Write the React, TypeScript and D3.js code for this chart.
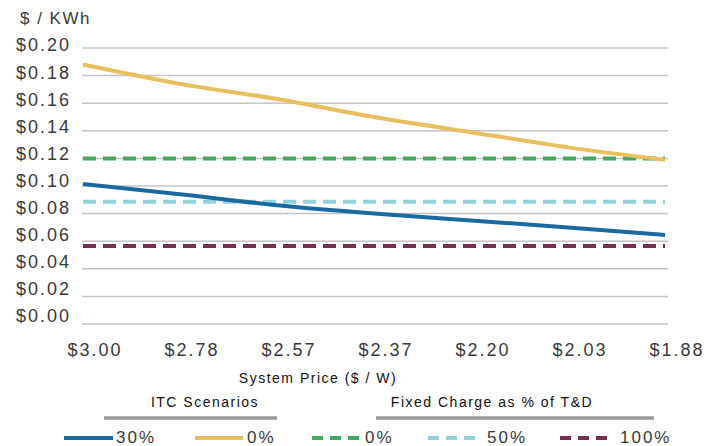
import React from "react";
import * as d3 from "d3";

const categories = ["$3.00", "$2.78", "$2.57", "$2.37", "$2.20", "$2.03", "$1.88"];
const itc30 = [0.1015, 0.094, 0.086, 0.080, 0.075, 0.070, 0.0645];
const itc0 = [0.188, 0.174, 0.163, 0.150, 0.139, 0.128, 0.119];
const fixed0 = [0.12, 0.12, 0.12, 0.12, 0.12, 0.12, 0.12];
const fixed50 = [0.0885, 0.0885, 0.0885, 0.0885, 0.0885, 0.0885, 0.0885];
const fixed100 = [0.0565, 0.0565, 0.0565, 0.0565, 0.0565, 0.0565, 0.0565];
const yTicks = [0, 0.02, 0.04, 0.06, 0.08, 0.1, 0.12, 0.14, 0.16, 0.18, 0.2];

const W = 710;
const H = 446;
const FONT = "'Liberation Sans', Arial, sans-serif";
const TXT = "#3a3a3a";

const series = [
  { name: "30%", values: itc30, color: "#1a6aa0", dash: null },
  { name: "0%", values: itc0, color: "#e8bf5c", dash: null },
  { name: "0%", values: fixed0, color: "#45aa5e", dash: "13 7" },
  { name: "50%", values: fixed50, color: "#93d0de", dash: "13 7" },
  { name: "100%", values: fixed100, color: "#76304f", dash: "13 7" },
];

export default function App() {
  const x = d3.scalePoint<string>().domain(categories).range([83, 665]);
  const y = d3.scaleLinear().domain([0, 0.2]).range([324, 48]);
  const yLab = d3.scaleLinear().domain([0, 0.2]).range([316, 45]);
  const line = d3
    .line<number>()
    .x((_, i) => x(categories[i]) as number)
    .y((d) => y(d))
    .curve(d3.curveMonotoneX);

  const legendItems = [
    { s: series[0], x0: 64, x1: 113, tx: 116 },
    { s: series[1], x0: 195, x1: 243, tx: 247 },
    { s: series[2], x0: 312, x1: 360, tx: 365 },
    { s: series[3], x0: 428, x1: 478, tx: 487 },
    { s: series[4], x0: 560, x1: 608, tx: 620 },
  ];
  const LY = 437;

  return (
    <svg
      width={W}
      height={H}
      style={{ position: "absolute", left: 0, top: 0, background: "#fff" }}
      fontFamily={FONT}
    >
      <text x={20} y={24} fontSize={17} fill={TXT} letterSpacing={1.5}>
        $ / KWh
      </text>
      {yTicks.map((t) => (
        <g key={t}>
          <line x1={82} x2={668} y1={y(t)} y2={y(t)} stroke="#c4c4c4" strokeWidth={1.5} />
          <text
            x={71}
            y={yLab(t)}
            dy="0.36em"
            textAnchor="end"
            fontSize={18}
            fill={TXT}
            letterSpacing={2}
          >
            {"$" + t.toFixed(2)}
          </text>
        </g>
      ))}
      {categories.map((c) => (
        <text
          key={c}
          x={(x(c) as number) + 12}
          y={350}
          dy="0.36em"
          textAnchor="middle"
          fontSize={18}
          fill={TXT}
          letterSpacing={2}
        >
          {c}
        </text>
      ))}
      <text x={318} y={378} dy="0.36em" textAnchor="middle" fontSize={14} fill="#111" letterSpacing={1.5}>
        System  Price ($ / W)
      </text>
      {series
        .slice()
        .reverse()
        .map((s, i) => (
          <path
            key={i}
            d={line(s.values) || ""}
            fill="none"
            stroke={s.color}
            strokeWidth={4}
            strokeDasharray={s.dash || undefined}
          />
        ))}
      <text x={205} y={402} dy="0.36em" textAnchor="middle" fontSize={14} fill="#111" letterSpacing={1.5}>
        ITC Scenarios
      </text>
      <line x1={104} x2={277} y1={418} y2={418} stroke="#999" strokeWidth={3.5} />
      <text x={492} y={402} dy="0.36em" textAnchor="middle" fontSize={14} fill="#111" letterSpacing={1.5}>
        Fixed Charge as % of T&amp;D
      </text>
      <line x1={376} x2={654} y1={418} y2={418} stroke="#999" strokeWidth={3.5} />
      {legendItems.map((it, i) => (
        <g key={i}>
          <line
            x1={it.x0}
            x2={it.x1}
            y1={LY + 1}
            y2={LY + 1}
            stroke={it.s.color}
            strokeWidth={4}
            strokeDasharray={it.s.dash ? "11 7" : undefined}
          />
          <text x={it.tx} y={LY} dy="0.36em" fontSize={17} fill={TXT} letterSpacing={2}>
            {it.s.name}
          </text>
        </g>
      ))}
    </svg>
  );
}
